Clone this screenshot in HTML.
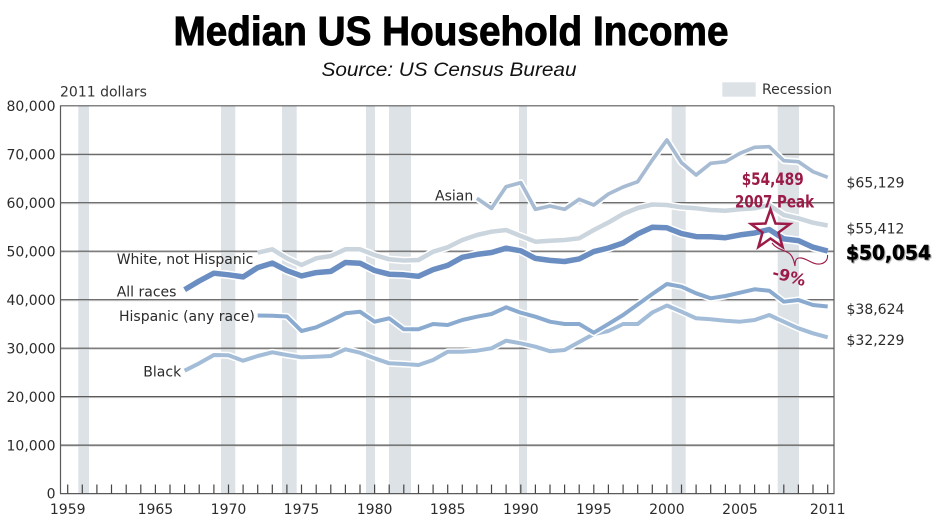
<!DOCTYPE html>
<html><head><meta charset="utf-8"><style>
html,body{margin:0;padding:0;background:#fff;}
svg{display:block;}
text{font-family:"DejaVu Sans","Liberation Sans",sans-serif;}
</style></head><body>
<svg width="950" height="529" viewBox="0 0 950 529" xmlns="http://www.w3.org/2000/svg">
<rect width="950" height="529" fill="#fff"/>
<!-- title -->
<text x="173.5" y="45" textLength="555" lengthAdjust="spacingAndGlyphs" style="font-family:'Liberation Sans',sans-serif;font-weight:bold;font-size:41px" fill="#000" stroke="#000" stroke-width="0.9">Median US Household Income</text>
<text x="321.5" y="76" textLength="255" lengthAdjust="spacingAndGlyphs" style="font-family:'Liberation Sans',sans-serif;font-style:italic;font-size:19.5px" fill="#111">Source:  US Census Bureau</text>
<text x="60" y="96.5" font-size="14" fill="#333">2011 dollars</text>
<rect x="722.3" y="82.3" width="33.4" height="14.4" fill="#dde2e6"/>
<text x="762" y="94" font-size="14" fill="#333">Recession</text>

<!-- recession bars -->
<g fill="#dde2e6">
<rect x="78.3" y="105.8" width="10.7" height="387.8"/>
<rect x="221" y="105.8" width="14.3" height="387.8"/>
<rect x="282" y="105.8" width="14.7" height="387.8"/>
<rect x="366" y="105.8" width="9" height="387.8"/>
<rect x="389" y="105.8" width="22" height="387.8"/>
<rect x="519" y="105.8" width="8" height="387.8"/>
<rect x="671.7" y="105.8" width="14" height="387.8"/>
<rect x="777.7" y="105.8" width="21.3" height="387.8"/>
</g>

<!-- gridlines -->
<g stroke="#d2d2d2" stroke-width="1">
<line x1="60" x2="834" y1="155.3" y2="155.3"/>
<line x1="60" x2="834" y1="203.7" y2="203.7"/>
<line x1="60" x2="834" y1="252.2" y2="252.2"/>
<line x1="60" x2="834" y1="300.7" y2="300.7"/>
<line x1="60" x2="834" y1="349.2" y2="349.2"/>
<line x1="60" x2="834" y1="397.6" y2="397.6"/>
<line x1="60" x2="834" y1="446.1" y2="446.1"/>
</g>
<g stroke="#5a5a5a" stroke-width="1.2">
<line x1="60" x2="834" y1="105.8" y2="105.8"/>
<line x1="60" x2="834" y1="154.3" y2="154.3"/>
<line x1="60" x2="834" y1="202.7" y2="202.7"/>
<line x1="60" x2="834" y1="251.2" y2="251.2"/>
<line x1="60" x2="834" y1="299.7" y2="299.7"/>
<line x1="60" x2="834" y1="348.2" y2="348.2"/>
<line x1="60" x2="834" y1="396.6" y2="396.6"/>
<line x1="60" x2="834" y1="445.1" y2="445.1"/>
<line x1="60" x2="834.5" y1="493.6" y2="493.6"/>
<line x1="60.5" x2="60.5" y1="105.8" y2="493.6"/>
<line x1="834" x2="834" y1="105.8" y2="493.6"/>
</g>

<!-- ticks -->
<g stroke="#444" stroke-width="1.2">
<path d="M67.7 484.5V493.6M82.3 484.5V493.6M96.9 484.5V493.6M111.5 484.5V493.6M126.2 484.5V493.6M140.8 484.5V493.6M155.4 484.5V493.6M170 484.5V493.6M184.6 484.5V493.6M199.2 484.5V493.6M213.9 484.5V493.6M228.5 484.5V493.6M243.1 484.5V493.6M257.7 484.5V493.6M272.3 484.5V493.6M286.9 484.5V493.6M301.5 484.5V493.6M316.2 484.5V493.6M330.8 484.5V493.6M345.4 484.5V493.6M360 484.5V493.6M374.6 484.5V493.6M389.2 484.5V493.6M403.8 484.5V493.6M418.5 484.5V493.6M433.1 484.5V493.6M447.7 484.5V493.6M462.3 484.5V493.6M476.9 484.5V493.6M491.5 484.5V493.6M506.1 484.5V493.6M520.8 484.5V493.6M535.4 484.5V493.6M550 484.5V493.6M564.6 484.5V493.6M579.2 484.5V493.6M593.8 484.5V493.6M608.4 484.5V493.6M623.1 484.5V493.6M637.7 484.5V493.6M652.3 484.5V493.6M666.9 484.5V493.6M681.5 484.5V493.6M696.1 484.5V493.6M710.7 484.5V493.6M725.4 484.5V493.6M740 484.5V493.6M754.6 484.5V493.6M769.2 484.5V493.6M783.8 484.5V493.6M798.4 484.5V493.6M813 484.5V493.6M827.7 484.5V493.6"/>
</g>

<!-- y labels -->
<g font-size="14" fill="#2b2b2b" text-anchor="end">
<text x="55.5" y="111">80,000</text>
<text x="55.5" y="159.5">70,000</text>
<text x="55.5" y="208">60,000</text>
<text x="55.5" y="256.5">50,000</text>
<text x="55.5" y="305">40,000</text>
<text x="55.5" y="353.5">30,000</text>
<text x="55.5" y="402">20,000</text>
<text x="55.5" y="450.5">10,000</text>
<text x="55.5" y="498.5">0</text>
</g>
<!-- x labels -->
<g font-size="14" fill="#2b2b2b" text-anchor="middle">
<text x="67.7" y="514">1959</text>
<text x="155.4" y="514">1965</text>
<text x="228.5" y="514">1970</text>
<text x="301.5" y="514">1975</text>
<text x="374.6" y="514">1980</text>
<text x="447.7" y="514">1985</text>
<text x="520.8" y="514">1990</text>
<text x="593.8" y="514">1995</text>
<text x="666.9" y="514">2000</text>
<text x="740" y="514">2005</text>
<text x="827.7" y="514">2011</text>
</g>

<!-- series -->
<g fill="none" stroke-linejoin="round" stroke-linecap="butt">
<!-- Black -->
<polyline stroke="#fff" stroke-width="7" points="184.6,370.7 199.2,363.3 213.9,355 228.5,355.3 243.1,360.7 257.7,356 272.3,352.3 286.9,355 301.5,357.3 316.2,356.7 330.8,356 345.4,349.3 360,352.7 374.6,358.3 389.2,363.3 403.8,364 418.5,365 433.1,360 447.7,351.7 462.3,351.7 476.9,350.7 491.5,348.3 506.1,340.7 520.8,343.3 535.4,346.7 550,351.2 564.6,350 579.2,342 593.8,334 608.4,331 623.1,324 637.7,324 652.3,312.5 666.9,305.5 681.5,311.7 696.1,318.3 710.7,319.3 725.4,320.7 740,321.7 754.6,320 769.2,315 783.8,321.7 798.4,328.3 813,333.3 827.7,337.3"/>
<polyline stroke="#a3bdd8" stroke-width="4" points="184.6,370.7 199.2,363.3 213.9,355 228.5,355.3 243.1,360.7 257.7,356 272.3,352.3 286.9,355 301.5,357.3 316.2,356.7 330.8,356 345.4,349.3 360,352.7 374.6,358.3 389.2,363.3 403.8,364 418.5,365 433.1,360 447.7,351.7 462.3,351.7 476.9,350.7 491.5,348.3 506.1,340.7 520.8,343.3 535.4,346.7 550,351.2 564.6,350 579.2,342 593.8,334 608.4,331 623.1,324 637.7,324 652.3,312.5 666.9,305.5 681.5,311.7 696.1,318.3 710.7,319.3 725.4,320.7 740,321.7 754.6,320 769.2,315 783.8,321.7 798.4,328.3 813,333.3 827.7,337.3"/>
<!-- Hispanic -->
<polyline stroke="#fff" stroke-width="7" points="257.7,315.5 272.3,315.7 286.9,316.5 301.5,331 316.2,327.3 330.8,320.7 345.4,313.3 360,311.7 374.6,321.7 389.2,318.3 403.8,329.3 418.5,329.3 433.1,324 447.7,325 462.3,320 476.9,316.7 491.5,314 506.1,307.3 520.8,312.7 535.4,316.7 550,321.7 564.6,324 579.2,324 593.8,332.7 608.4,324 623.1,315 637.7,304.5 652.3,294 666.9,284 681.5,286.7 696.1,293.3 710.7,298.3 725.4,296 740,292.7 754.6,289.3 769.2,290.7 783.8,301.7 798.4,300 813,305 827.7,306.5"/>
<polyline stroke="#8aabcf" stroke-width="4" points="257.7,315.5 272.3,315.7 286.9,316.5 301.5,331 316.2,327.3 330.8,320.7 345.4,313.3 360,311.7 374.6,321.7 389.2,318.3 403.8,329.3 418.5,329.3 433.1,324 447.7,325 462.3,320 476.9,316.7 491.5,314 506.1,307.3 520.8,312.7 535.4,316.7 550,321.7 564.6,324 579.2,324 593.8,332.7 608.4,324 623.1,315 637.7,304.5 652.3,294 666.9,284 681.5,286.7 696.1,293.3 710.7,298.3 725.4,296 740,292.7 754.6,289.3 769.2,290.7 783.8,301.7 798.4,300 813,305 827.7,306.5"/>
<!-- Asian -->
<polyline stroke="#fff" stroke-width="7" points="476.9,198.3 491.5,208.3 506.1,186.7 520.8,182.7 535.4,209.3 550,206 564.6,209.3 579.2,199.3 593.8,205 608.4,194 623.1,187 637.7,181.7 652.3,160 666.9,140 681.5,162.7 696.1,175 710.7,163.3 725.4,161.7 740,153.3 754.6,147.3 769.2,146.7 783.8,160.7 798.4,161.7 813,171.7 827.7,177.3"/>
<polyline stroke="#a7bcd3" stroke-width="3.7" points="476.9,198.3 491.5,208.3 506.1,186.7 520.8,182.7 535.4,209.3 550,206 564.6,209.3 579.2,199.3 593.8,205 608.4,194 623.1,187 637.7,181.7 652.3,160 666.9,140 681.5,162.7 696.1,175 710.7,163.3 725.4,161.7 740,153.3 754.6,147.3 769.2,146.7 783.8,160.7 798.4,161.7 813,171.7 827.7,177.3"/>
<!-- White -->
<polyline stroke="#fff" stroke-width="7.5" points="257.7,252.7 272.3,249.3 286.9,258.3 301.5,265 316.2,258.3 330.8,256 345.4,249.3 360,249.3 374.6,255 389.2,259.3 403.8,260.5 418.5,260 433.1,251.7 447.7,247.3 462.3,240 476.9,235 491.5,231.7 506.1,230 520.8,236 535.4,241.7 550,240.7 564.6,240 579.2,238.3 593.8,230 608.4,222.5 623.1,214 637.7,208 652.3,204.5 666.9,205 681.5,207.3 696.1,208.3 710.7,210 725.4,210.7 740,209.3 754.6,208.3 769.2,205 783.8,215 798.4,218.3 813,222.7 827.7,225.5"/>
<polyline stroke="#cbd5de" stroke-width="4.5" points="257.7,252.7 272.3,249.3 286.9,258.3 301.5,265 316.2,258.3 330.8,256 345.4,249.3 360,249.3 374.6,255 389.2,259.3 403.8,260.5 418.5,260 433.1,251.7 447.7,247.3 462.3,240 476.9,235 491.5,231.7 506.1,230 520.8,236 535.4,241.7 550,240.7 564.6,240 579.2,238.3 593.8,230 608.4,222.5 623.1,214 637.7,208 652.3,204.5 666.9,205 681.5,207.3 696.1,208.3 710.7,210 725.4,210.7 740,209.3 754.6,208.3 769.2,205 783.8,215 798.4,218.3 813,222.7 827.7,225.5"/>
<!-- All races -->
<polyline stroke="#fff" stroke-width="8.5" points="184.6,289.7 199.2,281 213.9,273.2 228.5,274.8 243.1,276.9 257.7,267.6 272.3,263.1 286.9,270.6 301.5,275.9 316.2,272.6 330.8,271.4 345.4,262.5 360,263.2 374.6,270.5 389.2,274.2 403.8,274.8 418.5,276.3 433.1,269.6 447.7,265.4 462.3,257.3 476.9,254.4 491.5,252.5 506.1,248.2 520.8,250.8 535.4,258.4 550,260.4 564.6,261.5 579.2,258.9 593.8,251.6 608.4,248 623.1,243 637.7,233.9 652.3,227.3 666.9,227.8 681.5,233.6 696.1,236.6 710.7,236.8 725.4,237.7 740,234.9 754.6,233 769.2,229.5 783.8,238.9 798.4,240.6 813,247.2 827.7,251"/>
<polyline stroke="#6b8ec2" stroke-width="5.5" points="184.6,289.7 199.2,281 213.9,273.2 228.5,274.8 243.1,276.9 257.7,267.6 272.3,263.1 286.9,270.6 301.5,275.9 316.2,272.6 330.8,271.4 345.4,262.5 360,263.2 374.6,270.5 389.2,274.2 403.8,274.8 418.5,276.3 433.1,269.6 447.7,265.4 462.3,257.3 476.9,254.4 491.5,252.5 506.1,248.2 520.8,250.8 535.4,258.4 550,260.4 564.6,261.5 579.2,258.9 593.8,251.6 608.4,248 623.1,243 637.7,233.9 652.3,227.3 666.9,227.8 681.5,233.6 696.1,236.6 710.7,236.8 725.4,237.7 740,234.9 754.6,233 769.2,229.5 783.8,238.9 798.4,240.6 813,247.2 827.7,251"/>
</g>

<!-- series labels -->
<g font-size="14" fill="#2b2b2b">
<text x="116.7" y="264">White, not Hispanic</text>
<text x="116.7" y="296.7">All races</text>
<text x="119" y="321">Hispanic (any race)</text>
<text x="143.3" y="376.5">Black</text>
<text x="435" y="200.7">Asian</text>
</g>

<!-- right labels -->
<g font-size="14" fill="#2b2b2b">
<text x="846.5" y="187.7">$65,129</text>
<text x="846.5" y="233.3">$55,412</text>
<text x="846.5" y="314">$38,624</text>
<text x="846.5" y="345">$32,229</text>
</g>
<text x="846" y="259.3" textLength="85" lengthAdjust="spacingAndGlyphs" font-size="19.5" font-weight="bold" fill="#000" stroke="#000" stroke-width="0.5" style="text-shadow:1px 1px 1px rgba(0,0,0,0.35)">$50,054</text>

<!-- annotation -->
<g fill="#9c1a47" style="font-family:'Liberation Sans',sans-serif;font-weight:bold">
<text x="741.7" y="185" font-size="16.5" textLength="62" lengthAdjust="spacingAndGlyphs">$54,489</text>
<text x="735" y="207.3" font-size="16.5" textLength="79" lengthAdjust="spacingAndGlyphs">2007 Peak</text>
<text x="789" y="282" font-size="16" text-anchor="middle" transform="rotate(15 789 277)">-9%</text>
</g>
<polygon points="770.5,209.3 775.5,223.5 790,224 778.5,232.5 782.6,247 770.5,238.5 758.4,247 762.5,232.5 751,224 765.5,223.5" fill="none" stroke="#9c1a47" stroke-width="2.5" stroke-linejoin="miter"/>
<path d="M772,243 C777,250 786,250 790,254 C793,257 794,261 795,266 C795,261 796,258 799,258 C806,257 812,265 820,264 C826,263 828,259 827.5,255" fill="none" stroke="#9c1a47" stroke-width="1.1"/>
</svg>
</body></html>
